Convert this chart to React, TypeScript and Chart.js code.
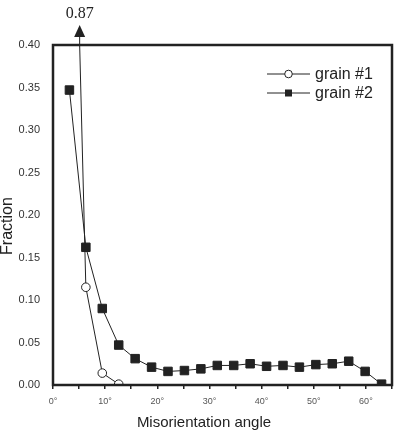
import React, { useEffect, useRef } from "react";
import { Chart, registerables } from "chart.js";

Chart.register(...registerables);

// Bin centres of the misorientation-angle histogram (degrees)
const binCenters = [
  3.15, 6.3, 9.45, 12.6, 15.75, 18.9, 22.05, 25.2, 28.35, 31.5,
  34.65, 37.8, 40.95, 44.1, 47.25, 50.4, 53.55, 56.7, 59.85, 63,
];

const grain1Label = "grain #1";
const grain2Label = "grain #2";
const xTitle = "Misorientation angle";
const yTitle = "Fraction";

// Fraction per bin
const grain1 = [0.87, 0.115, 0.014, 0.001];
const grain2 = [
  0.347, 0.162, 0.09, 0.047, 0.031, 0.021, 0.016, 0.017, 0.019, 0.023,
  0.023, 0.025, 0.022, 0.023, 0.021, 0.024, 0.025, 0.028, 0.016, 0.001,
];

const yTicks = [0, 0.05, 0.1, 0.15, 0.2, 0.25, 0.3, 0.35, 0.4];
const xLabelStep = 10;

const INK = "#222";
const SANS = "'Liberation Sans', Arial, sans-serif";

const framePlugin = {
  id: "frameAndNotes",
  afterDatasetsDraw(chart: any) {
    const { ctx, chartArea: a, scales } = chart;
    const xs = scales.x;
    const ys = scales.y;
    ctx.save();

    // Plot frame
    ctx.strokeStyle = INK;
    ctx.lineWidth = 2.5;
    ctx.strokeRect(a.left, a.top, a.right - a.left, a.bottom - a.top);

    // Off-scale value of grain #1: arrow where its line leaves the top
    const x0 = xs.getPixelForValue(binCenters[0]);
    const y0 = ys.getPixelForValue(grain1[0]);
    const x1 = xs.getPixelForValue(binCenters[1]);
    const y1 = ys.getPixelForValue(grain1[1]);
    const t = (a.top - y0) / (y1 - y0);
    const ax = x0 + (x1 - x0) * t;
    ctx.lineWidth = 1;
    ctx.beginPath();
    ctx.moveTo(ax, a.top);
    ctx.lineTo(ax, a.top - 9);
    ctx.stroke();
    ctx.fillStyle = INK;
    ctx.beginPath();
    ctx.moveTo(ax - 5.5, a.top - 8);
    ctx.lineTo(ax + 5.5, a.top - 8);
    ctx.lineTo(ax, a.top - 20);
    ctx.closePath();
    ctx.fill();
    ctx.font = "16px 'Liberation Serif', 'DejaVu Serif', serif";
    ctx.textAlign = "center";
    ctx.textBaseline = "alphabetic";
    ctx.fillText(grain1[0].toFixed(2), ax, a.top - 27);

    // Axis titles
    ctx.fillStyle = INK;
    ctx.font = `15px ${SANS}`;
    ctx.textAlign = "center";
    ctx.textBaseline = "alphabetic";
    ctx.fillText(xTitle, 204, 427);
    ctx.save();
    ctx.translate(12, 226);
    ctx.rotate(-Math.PI / 2);
    ctx.font = `16px ${SANS}`;
    ctx.fillText(yTitle, 0, 0);
    ctx.restore();

    // Legend
    const lx0 = 267;
    const lx1 = 310;
    const rows = [
      { y: 74, label: grain1Label, style: "circle" },
      { y: 93, label: grain2Label, style: "rect" },
    ];
    ctx.font = `16px ${SANS}`;
    ctx.textAlign = "left";
    ctx.textBaseline = "middle";
    for (const r of rows) {
      ctx.strokeStyle = INK;
      ctx.lineWidth = 1;
      ctx.beginPath();
      ctx.moveTo(lx0, r.y);
      ctx.lineTo(lx1, r.y);
      ctx.stroke();
      const cx = (lx0 + lx1) / 2;
      if (r.style === "circle") {
        ctx.fillStyle = "#fff";
        ctx.beginPath();
        ctx.arc(cx, r.y, 3.8, 0, Math.PI * 2);
        ctx.fill();
        ctx.stroke();
      } else {
        ctx.fillStyle = INK;
        ctx.fillRect(cx - 3.5, r.y - 3.5, 7, 7);
      }
      ctx.fillStyle = INK;
      ctx.fillText(r.label, 315, r.y + 1);
    }
    ctx.restore();
  },
};

export default function App() {
  const ref = useRef<HTMLCanvasElement>(null);

  useEffect(() => {
    if (!ref.current) return;
    const chart = new Chart(ref.current, {
      type: "line",
      data: {
        datasets: [
          {
            label: grain1Label,
            data: grain1.map((v, i) => ({ x: binCenters[i], y: v })),
            borderColor: INK,
            borderWidth: 1,
            pointStyle: "circle",
            pointRadius: 4.3,
            pointBackgroundColor: "#fff",
            pointBorderColor: INK,
            pointBorderWidth: 1,
          },
          {
            label: grain2Label,
            data: grain2.map((v, i) => ({ x: binCenters[i], y: v })),
            borderColor: INK,
            borderWidth: 1,
            pointStyle: "rect",
            pointRadius: 6,
            pointBackgroundColor: INK,
            pointBorderColor: INK,
            pointBorderWidth: 1,
          },
        ],
      },
      options: {
        responsive: false,
        animation: false,
        layout: { padding: { top: 45, right: 10, left: 0, bottom: 0 } },
        plugins: {
          legend: { display: false },
          tooltip: { enabled: false },
        },
        scales: {
          x: {
            type: "linear",
            min: 0,
            max: 65,
            afterFit: (s: any) => {
              s.height = 47;
            },
            border: { display: false },
            grid: {
              display: true,
              drawOnChartArea: false,
              drawTicks: true,
              tickLength: 4,
              color: INK,
              lineWidth: 1.5,
            },
            ticks: {
              stepSize: 5,
              autoSkip: false,
              maxRotation: 0,
              padding: 7,
              color: "#555",
              font: { family: SANS, size: 9 },
              callback: (v: any) => (Number(v) % xLabelStep === 0 ? `${v}°` : ""),
            },
          },
          y: {
            min: 0,
            max: 0.4,
            afterFit: (s: any) => {
              s.width = 53;
            },
            afterBuildTicks: (s: any) => {
              s.ticks = yTicks.map((v) => ({ value: v }));
            },
            border: { display: false },
            grid: { display: false },
            ticks: {
              padding: 5,
              color: "#333",
              font: { family: SANS, size: 11 },
              callback: (v: any) => Number(v).toFixed(2),
            },
          },
        },
      },
      plugins: [framePlugin],
    });
    return () => chart.destroy();
  }, []);

  return (
    <div style={{ position: "fixed", left: 0, top: 0, width: 402, height: 432, background: "#fff" }}>
      <canvas ref={ref} width={402} height={432} />
    </div>
  );
}
